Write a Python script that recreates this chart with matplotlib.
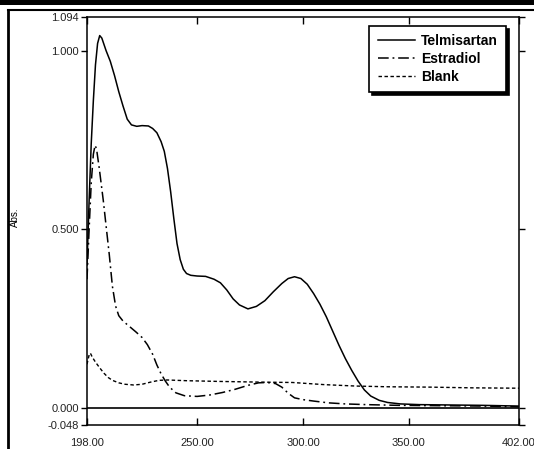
import matplotlib
matplotlib.use("Agg")
import matplotlib.pyplot as plt
from matplotlib.lines import Line2D
from matplotlib.patches import Rectangle

plt.rcParams['font.family'] = ['Liberation Sans', 'DejaVu Sans']

# Absorbance spectra (wavelength in nm)
telmi_wl = [198, 199, 200, 201, 202, 203, 204, 205, 207, 209, 211, 213, 215, 217, 219,
            221.5, 224, 227, 229, 231, 233, 234.5, 236, 237.5, 239, 240.5, 242, 243.5,
            245, 247, 250, 254, 258, 261, 264, 267, 270, 274, 278, 282, 286, 290, 293,
            296, 299, 302, 305, 308, 311, 314, 317, 320, 323, 326, 329, 332, 336, 340,
            346, 355, 370, 385, 402]
telmi_abs = [0.40, 0.58, 0.74, 0.86, 0.96, 1.02, 1.042, 1.035, 1.00, 0.97, 0.93, 0.885,
             0.845, 0.808, 0.792, 0.788, 0.790, 0.789, 0.782, 0.770, 0.745, 0.718, 0.670,
             0.605, 0.530, 0.460, 0.415, 0.388, 0.376, 0.371, 0.369, 0.368, 0.360, 0.350,
             0.330, 0.305, 0.288, 0.277, 0.284, 0.300, 0.325, 0.348, 0.362, 0.367, 0.362,
             0.346, 0.320, 0.290, 0.255, 0.215, 0.175, 0.138, 0.105, 0.075, 0.050, 0.033,
             0.021, 0.015, 0.011, 0.009, 0.008, 0.007, 0.005]

estra_wl = [198, 199, 200, 201, 201.8, 202.5, 203.8, 205.7, 207, 208.5, 210, 211.5, 213,
            215, 218, 221, 224, 226.5, 229, 231, 233, 235, 237, 240, 244, 250, 256, 262,
            268, 274, 279, 283, 287, 290, 293, 296, 300, 305, 312, 320, 330, 345, 365,
            385, 402]
estra_abs = [0.36, 0.50, 0.63, 0.71, 0.735, 0.725, 0.67, 0.58, 0.51, 0.43, 0.34, 0.285,
             0.258, 0.243, 0.228, 0.213, 0.197, 0.177, 0.150, 0.120, 0.095, 0.075, 0.058,
             0.042, 0.034, 0.032, 0.036, 0.043, 0.052, 0.063, 0.070, 0.071, 0.068, 0.058,
             0.041, 0.028, 0.023, 0.019, 0.014, 0.011, 0.009, 0.007, 0.006, 0.005, 0.003]

blank_wl = [198, 199, 199.6, 200.5, 202, 204, 206, 208, 210, 213, 216, 220, 224, 228,
            232, 236, 245, 260, 280, 295, 310, 325, 340, 360, 380, 402]
blank_abs = [0.122, 0.148, 0.153, 0.142, 0.128, 0.112, 0.097, 0.085, 0.077, 0.070, 0.066,
             0.064, 0.066, 0.072, 0.077, 0.078, 0.076, 0.074, 0.072, 0.071, 0.065, 0.061,
             0.059, 0.058, 0.056, 0.055]

x_ticks = [198, 250, 300, 350, 402]
x_tick_labels = ["198.00", "250.00", "300.00", "350.00", "402.00"]
y_ticks = [-0.048, 0.0, 0.5, 1.0, 1.094]
y_tick_labels = ["-0.048", "0.000", "0.500", "1.000", "1.094"]

W, H = 534, 449
fig = plt.figure(figsize=(W / 100, H / 100), dpi=100)
ax = fig.add_axes([87 / W, (H - 425) / H, (519 - 87) / W, (425 - 17) / H])

ax.plot(telmi_wl, telmi_abs, color='black', lw=1.1, label='Telmisartan')
ax.plot(estra_wl, estra_abs, color='black', lw=1.1, dashes=(7, 2.5, 1.2, 2.5),
        label='Estradiol')
ax.plot(blank_wl, blank_abs, color='black', lw=1.0, dashes=(2.5, 1.8), label='Blank')
ax.axhline(0, color='black', lw=1.2)

ax.set_xlim(198, 402)
ax.set_ylim(-0.048, 1.094)
ax.set_xticks(x_ticks)
ax.set_xticklabels(x_tick_labels)
ax.set_yticks(y_ticks)
ax.set_yticklabels(y_tick_labels)

ax.tick_params(axis='x', direction='in', top=True, length=5, width=1, pad=9,
               labelsize=8, labelcolor='#222222')
ax.tick_params(axis='y', direction='out', right=True, length=4, width=1, pad=2,
               labelsize=8, labelcolor='#222222')
for s in ax.spines.values():
    s.set_linewidth(1.1)

ax.set_ylabel('Abs.', fontsize=7)
ax.yaxis.set_label_coords((20 - 87) / 432, 0.51)
ax.set_xlabel('nm', fontsize=8)
ax.xaxis.set_label_coords(0.487, -0.058)

leg = ax.legend(loc='upper right', bbox_to_anchor=(0.970, 0.978), borderaxespad=0,
                fancybox=False, edgecolor='black', framealpha=1,
                shadow={'color': 'black', 'alpha': 1},
                prop={'weight': 'bold', 'size': 10}, handlelength=2.7,
                handletextpad=0.4, labelspacing=0.28, borderpad=0.6)
leg.get_frame().set_linewidth(1.2)

# Page frame around the plot
fig.add_artist(Rectangle((0, 1 - 5 / H), 1, 5 / H, transform=fig.transFigure,
                         color='black', lw=0))
fig.add_artist(Line2D([8 / W, 1], [1 - 10 / H, 1 - 10 / H], transform=fig.transFigure,
                      color='black', lw=1.5))
fig.add_artist(Line2D([8 / W, 8 / W], [0, 1 - 10 / H], transform=fig.transFigure,
                      color='black', lw=2))

fig.savefig('out.png', dpi=100)
